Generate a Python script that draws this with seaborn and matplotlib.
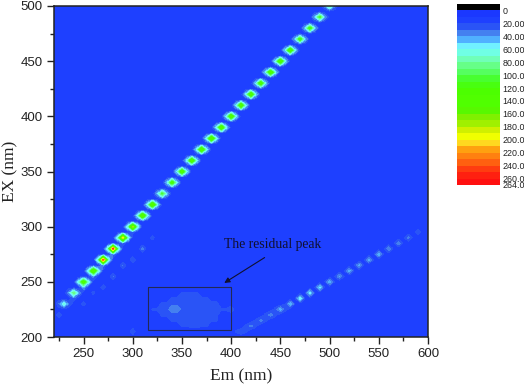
import numpy as np
import pandas as pd
import matplotlib
matplotlib.use("Agg")
import matplotlib.pyplot as plt
from matplotlib.colors import ListedColormap, BoundaryNorm
from matplotlib.patches import Rectangle
from matplotlib.ticker import MultipleLocator
import seaborn as sns

# first order scatter line (Em = EX)
first_em = [230, 240, 250, 260, 270, 280, 290, 300, 310, 320, 330, 340, 350, 360,
            370, 380, 390, 400, 410, 420, 430, 440, 450, 460, 470, 480, 490, 500]
first_val = [62, 88, 135, 155, 240, 245, 200, 178, 158, 155, 105, 130, 145, 150,
             155, 158, 150, 148, 145, 145, 140, 150, 150, 145, 120, 120, 105, 80]
first_side = [30, 38, 58, 60, 70, 72, 66, 62, 58, 56, 44, 50, 54, 55,
              56, 57, 55, 54, 52, 52, 50, 54, 54, 52, 46, 46, 42, 34]
first_shoulder = [14, 25, 42, 35, 35, 32, 25, 22, 19, 19, 18, 18, 19, 19,
                  19, 19, 19, 19, 18, 18, 18, 18, 18, 18, 16, 16, 16, 14]

# second order line (Em = 2 EX)
second_em = [410, 420, 430, 440, 450, 460, 470, 480, 490, 500,
             510, 520, 530, 540, 550, 560, 570, 580, 590]
second_ex = [205, 210, 215, 220, 225, 230, 235, 240, 245, 250,
             255, 260, 265, 270, 275, 280, 285, 290, 295]
second_val = [27, 33, 33, 35, 44, 47, 58, 55, 52, 46,
              40, 44, 42, 42, 46, 38, 36, 33, 26]
second_side = [21, 22, 22, 23, 24, 19, 19, 19, 19, 19,
               19, 19, 19, 18, 18, 17, 17, 16, 14]

# weak satellites next to the first order line
sat_em = [225, 250, 260, 270, 280, 290, 300, 310, 320, 300, 400]
sat_ex = [220, 230, 240, 245, 255, 265, 270, 280, 290, 205, 225]
sat_val = [26, 24, 23, 26, 30, 30, 28, 34, 24, 28, 29]

# residual peak inside the box
res_em = [320, 330, 340, 350, 360, 370, 380, 390,
          330, 340, 350, 360, 370, 380,
          340, 350, 360, 370,
          350, 360,
          330, 340, 350, 360, 370, 380,
          340, 350, 360, 370, 380,
          350, 360, 370]
res_ex = [225, 225, 225, 225, 225, 225, 225, 225,
          230, 230, 230, 230, 230, 230,
          235, 235, 235, 235,
          240, 240,
          220, 220, 220, 220, 220, 220,
          215, 215, 215, 215, 215,
          210, 210, 210]
res_val = [21, 27, 37, 27, 27, 27, 25, 21,
           23, 26, 26, 27, 25, 24,
           22, 24, 25, 22,
           21, 21,
           23, 25, 25, 25, 24, 22,
           21, 23, 24, 23, 21,
           21, 22, 21]

em_grid = list(range(220, 601, 5))
ex_grid = list(range(200, 501, 5))
background = 12.5

bar_labels = ["0", "20.00", "40.00", "60.00", "80.00", "100.0", "120.0", "140.0",
              "160.0", "180.0", "200.0", "220.0", "240.0", "260.0", "264.0"]
bar_edges = [-10, 0, 10, 20, 30, 40, 50, 60, 70, 80, 90, 100, 110, 120, 130, 140, 150,
             160, 170, 180, 190, 200, 210, 220, 230, 240, 250, 260, 264]
bar_colors = ["#000000", "#1b38ff", "#1e40ff", "#2a54f6", "#4480f0", "#50b0ff", "#70f0ff",
              "#70ffe4", "#70ffb8", "#66ff88", "#55ff60", "#48ff30", "#48ff10", "#4cff00",
              "#50ff00", "#50ff00", "#58f800", "#80f000", "#a0f000", "#d0f000", "#f0ff00",
              "#ffd820", "#ffa010", "#ff8010", "#ff6010", "#ff3c10", "#ff2010", "#ff1010"]

cmap = ListedColormap(bar_colors)
norm = BoundaryNorm(bar_edges, cmap.N)

eem = pd.DataFrame(float(background), index=ex_grid, columns=em_grid)
for em, ex, v in zip(sat_em, sat_ex, sat_val):
    eem.loc[ex, em] = v
for em, ex, v in zip(res_em, res_ex, res_val):
    eem.loc[ex, em] = v
    eem.loc[ex, em + 5] = v
for em, v in zip(first_em, first_shoulder):
    eem.loc[em - 5, em] = v
for em, v, s in zip(first_em, first_val, first_side):
    eem.loc[em, em] = v
    eem.loc[em, em - 5] = s
    eem.loc[em, em + 5] = s
for em, ex, v, s in zip(second_em, second_ex, second_val, second_side):
    eem.loc[ex, em] = v
    eem.loc[ex, em - 5] = s
    eem.loc[ex, em + 5] = s
# keep grid values off the contour levels
z = eem.values + 0.3

sns.set_style("ticks")
plt.rcParams["font.family"] = ["Liberation Sans", "DejaVu Sans"]

W, H = 524, 388
fig = plt.figure(figsize=(W / 100, H / 100), dpi=100)
ax = fig.add_axes([54 / W, 1 - 337 / H, 374 / W, 331 / H])

ax.contourf(eem.columns, eem.index, z, levels=bar_edges, cmap=cmap, norm=norm)

ax.set_xlim(220, 600)
ax.set_ylim(200, 500)
ax.xaxis.set_major_locator(MultipleLocator(50))
ax.xaxis.set_minor_locator(MultipleLocator(25))
ax.yaxis.set_major_locator(MultipleLocator(50))
ax.yaxis.set_minor_locator(MultipleLocator(25))
ax.tick_params(which="major", length=5, width=1, color="#222222", labelsize=9.5, labelcolor="#222222", pad=3)
ax.tick_params(which="minor", length=3, width=1, color="#222222")
for s in ax.spines.values():
    s.set_linewidth(1.1)
    s.set_color("#222222")

ax.set_xlabel("Em (nm)", family="Liberation Serif", fontsize=12.5, labelpad=6, color="#222222")
ax.set_ylabel("EX (nm)", family="Liberation Serif", fontsize=12.5, labelpad=2, color="#222222")

ax.add_patch(Rectangle((315.5, 206), 84.5, 39, fill=False, edgecolor="#222a55", linewidth=0.8))
ax.text(442.5, 284, "The residual peak",
        family="Liberation Serif", fontsize=9.8, color="#101030", ha="center", va="center")
ax.annotate("", xy=(393, 249), xytext=(434, 272),
            arrowprops=dict(arrowstyle="-|>", color="#101030", lw=0.8, mutation_scale=8, shrinkA=0, shrinkB=0))

# colour key
cax = fig.add_axes([457 / W, 1 - 185 / H, 43 / W, 181 / H])
mids = [(a + b) / 2 for a, b in zip(bar_edges[:-1], bar_edges[1:])]
sns.heatmap(np.array(mids).reshape(-1, 1), ax=cax, cmap=cmap, norm=norm, cbar=False,
            xticklabels=False, yticklabels=False)
tick_rows = list(range(1, 28, 2)) + [28]
cax.yaxis.tick_right()
cax.set_yticks(tick_rows)
cax.set_yticklabels(bar_labels, rotation=0, fontsize=6.4, color="#222222")
cax.tick_params(axis="y", length=0, pad=2)

fig.savefig("out.png", dpi=100)
